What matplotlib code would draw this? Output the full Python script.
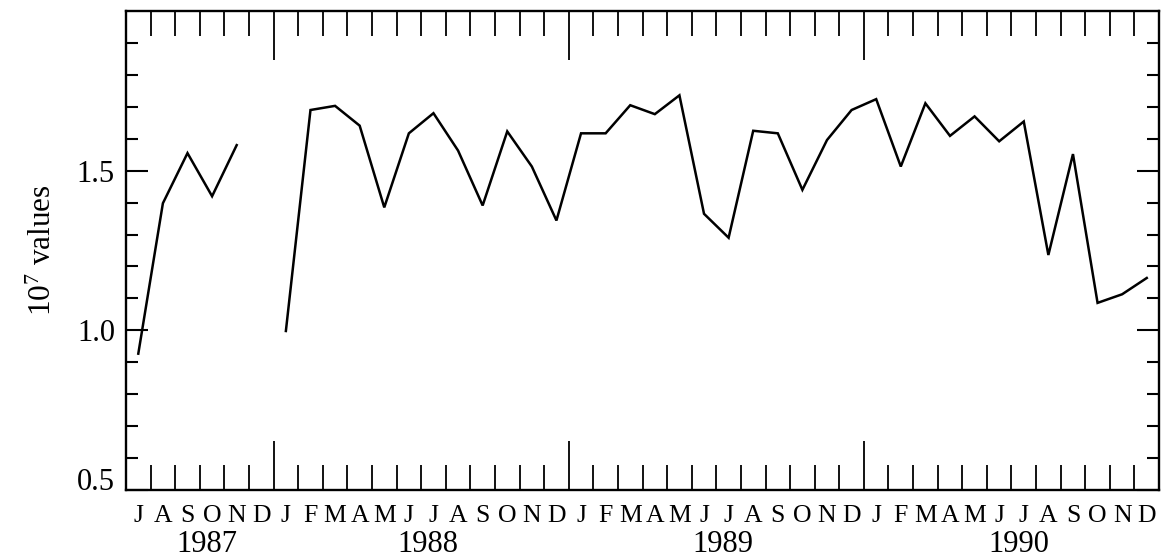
import numpy as np
import matplotlib
matplotlib.use('Agg')
import matplotlib.pyplot as plt
from matplotlib.ticker import FixedLocator, NullFormatter
import matplotlib.transforms as mtransforms

# ---- data ----
month_labels = (['J', 'A', 'S', 'O', 'N', 'D'] +
                ['J', 'F', 'M', 'A', 'M', 'J', 'J', 'A', 'S', 'O', 'N', 'D'] * 3)
years = ['1987', '1988', '1989', '1990']
months_per_year = [6, 12, 12, 12]
values = [0.927, 1.398, 1.555, 1.420, 1.580, np.nan,
          0.998, 1.690, 1.703, 1.641, 1.385, 1.617, 1.680, 1.563, 1.391, 1.623, 1.513, 1.344,
          1.617, 1.617, 1.705, 1.677, 1.736, 1.365, 1.290, 1.625, 1.617, 1.440, 1.596, 1.690,
          1.724, 1.513, 1.711, 1.609, 1.670, 1.592, 1.654, 1.236, 1.552, 1.086, 1.113, 1.164]
y_major = [0.5, 1.0, 1.5]
y_labels = ['0.5', '1.0', '1.5']
ylabel = r'$\mathregular{10^{7}}$ values'

# ---- style ----
plt.rcParams['font.family'] = ['Liberation Serif', 'DejaVu Serif']
plt.rcParams['mathtext.fontset'] = 'custom'
plt.rcParams['mathtext.rm'] = 'Liberation Serif'
plt.rcParams['mathtext.it'] = 'Liberation Serif:italic'

fig = plt.figure(figsize=(11.71, 5.59), dpi=100)
ax = fig.add_axes([0.1076, 0.1234, 0.8822, 0.8569])

x = np.arange(len(values))
ax.plot(x, values, color='black', lw=1.8, solid_joinstyle='miter')

n = len(values)
ax.set_xlim(-0.5, n - 0.5)
ax.set_ylim(0.5, 2.0)

# year boundaries
bounds = np.cumsum(months_per_year)[:-1] - 0.5
bset = set(bounds.tolist())
minor_pos = [k + 0.5 for k in range(n - 1) if (k + 0.5) not in bset]
ax.xaxis.set_major_locator(FixedLocator(bounds))
ax.xaxis.set_minor_locator(FixedLocator(minor_pos))
ax.xaxis.set_major_formatter(NullFormatter())
ax.xaxis.set_minor_formatter(NullFormatter())

ax.yaxis.set_major_locator(FixedLocator(y_major))
ax.yaxis.set_minor_locator(FixedLocator(np.round(np.arange(0.6, 2.0, 0.1), 2)))
ax.set_yticklabels(y_labels)

ax.tick_params(axis='y', which='major', direction='in', length=16, width=1.5,
               left=True, right=True, labelsize=22, pad=8)
ax.tick_params(axis='y', which='minor', direction='in', length=8.5, width=1.5,
               left=True, right=True)
ax.tick_params(axis='x', which='major', direction='in', length=35, width=1.3,
               top=True, bottom=True, labelbottom=False)
ax.tick_params(axis='x', which='minor', direction='in', length=17.8, width=1.3,
               top=True, bottom=True)

for lab in ax.get_yticklabels():
    if lab.get_text() == '0.5':
        lab.set_verticalalignment('baseline')

for s in ax.spines.values():
    s.set_linewidth(1.7)

# month labels
trans = mtransforms.blended_transform_factory(ax.transData, ax.transAxes)
for i, m in enumerate(month_labels):
    ax.annotate(m, xy=(i, 0), xycoords=trans, xytext=(0, -23), textcoords='offset points',
                ha='center', va='baseline', fontsize=18.5, annotation_clip=False)

# year labels
start = 0
for yr, cnt in zip(years, months_per_year):
    center = start + (cnt - 1) / 2
    ax.annotate(yr, xy=(center, 0), xycoords=trans, xytext=(5, -44.3), textcoords='offset points',
                ha='center', va='baseline', fontsize=22, annotation_clip=False)
    start += cnt

ax.set_ylabel(ylabel, fontsize=22.5)
ax.yaxis.set_label_coords(-0.066, 0.5)

fig.savefig('out.png', dpi=100)
